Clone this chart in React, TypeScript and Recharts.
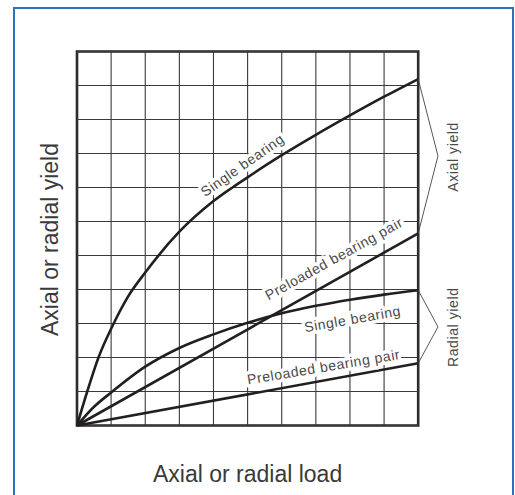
import React from "react";
import { LineChart, Line, XAxis, YAxis, ReferenceLine, ReferenceArea, ReferenceDot } from "recharts";

// grid ticks
const xTicks = [0, 1, 2, 3, 4, 5, 6, 7, 8, 9, 10];
const yTicks = [0, 1, 2, 3, 4, 5, 6, 7, 8, 9, 10, 11];

// series (x = load, y = yield)
const singleAxial = [
  { x: 0, y: 0 }, { x: 0.3, y: 1 }, { x: 0.63, y: 2 }, { x: 1.05, y: 2.95 }, { x: 1.5, y: 3.8 },
  { x: 2, y: 4.5 }, { x: 3, y: 5.7 }, { x: 4, y: 6.6 }, { x: 5, y: 7.3 }, { x: 6, y: 7.95 },
  { x: 7, y: 8.55 }, { x: 8, y: 9.12 }, { x: 9, y: 9.67 }, { x: 10, y: 10.19 },
];
const preloadedAxial = [{ x: 0, y: 0 }, { x: 10, y: 5.65 }];
const singleRadial = [
  { x: 0, y: 0 }, { x: 0.5, y: 0.55 }, { x: 1, y: 0.97 }, { x: 2, y: 1.73 }, { x: 3, y: 2.28 },
  { x: 4, y: 2.68 }, { x: 5, y: 3.02 }, { x: 6, y: 3.3 }, { x: 7, y: 3.52 }, { x: 8, y: 3.7 },
  { x: 9, y: 3.85 }, { x: 10, y: 3.98 },
];
const preloadedRadial = [{ x: 0, y: 0 }, { x: 10, y: 1.83 }];

// brackets on the right
const axialBrace = [{ x: 10, y: 10.19 }, { x: 10.58, y: 7.93 }, { x: 10, y: 5.65 }];
const radialBrace = [{ x: 10, y: 3.98 }, { x: 10.58, y: 2.9 }, { x: 10, y: 1.83 }];

// curve labels: text, anchor position (data units), angle
const curveLabels = [
  { text: "Single bearing", x: 4.93, y: 7.54, angle: -35 },
  { text: "Preloaded bearing pair", x: 7.6, y: 4.78, angle: -29 },
  { text: "Single bearing", x: 8.1, y: 2.99, angle: -10 },
  { text: "Preloaded bearing pair", x: 7.25, y: 1.58, angle: -9.5 },
];
const braceLabels = [
  { text: "Axial yield", x: 11.17, y: 7.9 },
  { text: "Radial yield", x: 11.17, y: 2.89 },
];
const xTitle = { text: "Axial or radial load", x: 5.0, y: -1.67 };
const yTitle = { text: "Axial or radial yield", x: -0.55, y: 5.47 };

const FONT = "'Liberation Sans', Arial, Helvetica, sans-serif";
const INK = "#231f20";
const GRID = "#3a3a3a";

export default function App() {
  return (
    <div style={{ position: "absolute", left: 0, top: 0, width: 515, height: 495, background: "#fff", overflow: "hidden" }}>
      <div
        style={{
          position: "absolute",
          left: 13,
          top: 7,
          width: 497,
          height: 500,
          border: "2px solid #2f6fbf",
        }}
      />
      <div style={{ position: "absolute", left: 0, top: 0 }}>
        <LineChart width={515} height={495} margin={{ top: 17.5, right: 11.5, bottom: 1.5, left: 8.76 }}>
          <XAxis type="number" dataKey="x" domain={[-2, 12.5]} hide allowDataOverflow />
          <YAxis type="number" dataKey="y" domain={[-2, 12]} hide allowDataOverflow />
          {xTicks.map((k) => (
            <ReferenceLine
              key={"v" + k}
              segment={[{ x: k, y: 0 }, { x: k, y: 11 }]}
              stroke={GRID}
              strokeWidth={1.1}
              ifOverflow="visible"
            />
          ))}
          {yTicks.map((k) => (
            <ReferenceLine
              key={"h" + k}
              segment={[{ x: 0, y: k }, { x: 10, y: k }]}
              stroke={GRID}
              strokeWidth={1.1}
              ifOverflow="visible"
            />
          ))}
          <Line data={singleAxial} dataKey="y" type="monotone" stroke={INK} strokeWidth={2.6} dot={false} activeDot={false} isAnimationActive={false} />
          <Line data={preloadedAxial} dataKey="y" type="linear" stroke={INK} strokeWidth={2.6} dot={false} activeDot={false} isAnimationActive={false} />
          <Line data={singleRadial} dataKey="y" type="monotone" stroke={INK} strokeWidth={2.6} dot={false} activeDot={false} isAnimationActive={false} />
          <Line data={preloadedRadial} dataKey="y" type="linear" stroke={INK} strokeWidth={2.6} dot={false} activeDot={false} isAnimationActive={false} />
          <Line data={axialBrace} dataKey="y" type="linear" stroke="#444" strokeWidth={0.9} dot={false} activeDot={false} isAnimationActive={false} />
          <Line data={radialBrace} dataKey="y" type="linear" stroke="#444" strokeWidth={0.9} dot={false} activeDot={false} isAnimationActive={false} />
          <ReferenceArea x1={0} x2={10} y1={0} y2={11} fill="none" fillOpacity={0} stroke={INK} strokeWidth={2.6} ifOverflow="visible" />
          {curveLabels.map((l, i) => (
            <ReferenceDot
              key={"cl" + i}
              x={l.x}
              y={l.y}
              r={0}
              ifOverflow="visible"
              shape={(p: any) => (
                <text
                  x={p.cx}
                  y={p.cy}
                  transform={`rotate(${l.angle} ${p.cx} ${p.cy})`}
                  textAnchor="middle"
                  fontFamily={FONT}
                  fontSize={14}
                  letterSpacing={0.6}
                  fill="#4a4a4a"
                  stroke="#fff"
                  strokeWidth={7}
                  strokeLinejoin="round"
                  paintOrder="stroke"
                >
                  {l.text}
                </text>
              )}
            />
          ))}
          {braceLabels.map((l, i) => (
            <ReferenceDot
              key={"bl" + i}
              x={l.x}
              y={l.y}
              r={0}
              ifOverflow="visible"
              shape={(p: any) => (
                <text
                  x={p.cx}
                  y={p.cy}
                  transform={`rotate(-90 ${p.cx} ${p.cy})`}
                  textAnchor="middle"
                  fontFamily={FONT}
                  fontSize={14}
                  letterSpacing={0.6}
                  fill="#4a4a4a"
                >
                  {l.text}
                </text>
              )}
            />
          ))}
          <ReferenceDot
            x={xTitle.x}
            y={xTitle.y}
            r={0}
            ifOverflow="visible"
            shape={(p: any) => (
              <text x={p.cx} y={p.cy} textAnchor="middle" fontFamily={FONT} fontSize={23} fill="#3a3a3a">
                {xTitle.text}
              </text>
            )}
          />
          <ReferenceDot
            x={yTitle.x}
            y={yTitle.y}
            r={0}
            ifOverflow="visible"
            shape={(p: any) => (
              <text
                x={p.cx}
                y={p.cy}
                transform={`rotate(-90 ${p.cx} ${p.cy})`}
                textAnchor="middle"
                fontFamily={FONT}
                fontSize={23}
                fill="#3a3a3a"
              >
                {yTitle.text}
              </text>
            )}
          />
        </LineChart>
      </div>
    </div>
  );
}
